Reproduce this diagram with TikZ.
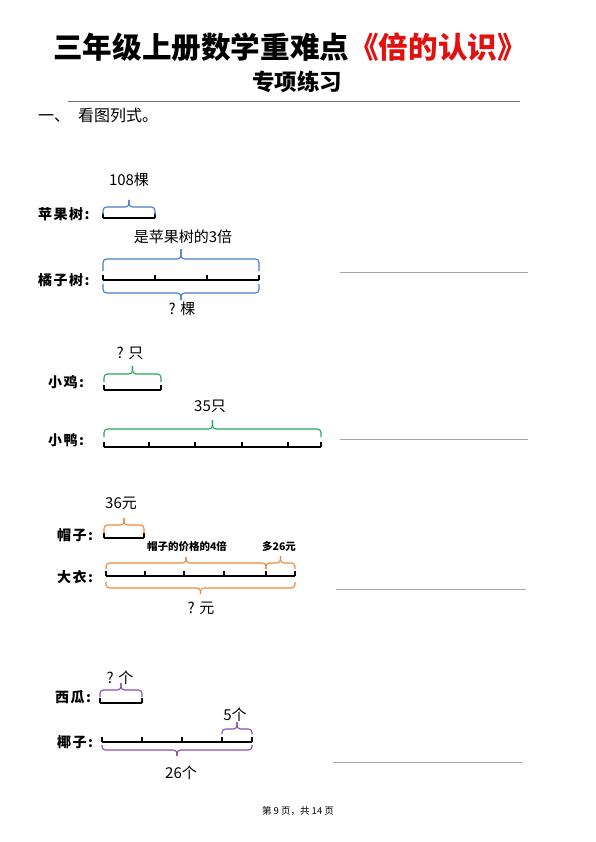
\documentclass[tikz,border=0pt]{standalone}
\usepackage{fontspec}
\setmainfont{Noto Sans CJK SC}
\definecolor{cblue}{HTML}{4A7BC8}
\definecolor{cgreen}{HTML}{22A85A}
\definecolor{corange}{HTML}{F0883A}
\definecolor{cpurple}{HTML}{8B4BB8}
\definecolor{cred}{HTML}{E31010}
\newcommand\mybrace[6]{%
 \draw[#1] (#2,#4) -- (#2,#5) -- ({(#2+#3)/2},#5) -- ({(#2+#3)/2},#6);
 \draw[#1] (#3,#4) -- (#3,#5) -- ({(#2+#3)/2},#5) -- ({(#2+#3)/2},#6);}
\newcommand\mytick[2]{\draw[barline] (#1,#2) -- (#1,#2-5);}
\tikzset{
 barline/.style={line width=1.2pt, black},
 brc/.style={line width=1.1pt, rounded corners=3.5pt, draw=#1},
 lbl/.style={inner sep=0pt, anchor=west, font=\fontsize{14}{14}\selectfont\bfseries},
 txt/.style={inner sep=0pt, font=\fontsize{15}{15}\selectfont},
 sml/.style={inner sep=0pt, font=\fontsize{10.5}{10.5}\selectfont\bfseries},
 ans/.style={line width=0.9pt, black!35},
}
\newcommand\lsp{\hspace{1.5pt}}
\begin{document}
\begin{tikzpicture}[x=1pt,y=-1pt]
\useasboundingbox[fill=white] (0,0) rectangle (596,842);
% title
\node[inner sep=0pt, font=\fontsize{29.6}{29.6}\selectfont\bfseries] (title) at (290,47) {三年级上册数学重难点\textcolor{cred}{《倍的认识》}};
\node[inner sep=0pt, font=\fontsize{22.5}{22.5}\selectfont\bfseries] (sub) at (297,82) {专项练习};
\draw[line width=0.8pt, black!55] (68,101) -- (520,101);
\node[inner sep=0pt, anchor=west, font=\fontsize{16}{16}\selectfont] (q1) at (38,115) {一、\hspace{8pt}看图列式。};
% ---- 1
\node[txt] (t108) at (129,180) {108棵};
\node[lbl] (lapple) at (38,214) {苹\lsp 果\lsp 树\lsp :};
\draw[barline] (103,218) -- (155,218);
\mytick{103}{218}\mytick{155}{218}
\mybrace{brc=cblue}{103}{155}{215}{207}{200}
\node[txt] (t3b) at (183,237) {是苹果树的3倍};
\node[lbl] (lorange) at (38,280) {橘\lsp 子\lsp 树\lsp :};
\draw[barline] (103,280) -- (259,280);
\mytick{103}{280}\mytick{155}{280}\mytick{207}{280}\mytick{259}{280}
\mybrace{brc=cblue}{103}{259}{271}{259}{249}
\mybrace{brc=cblue}{103}{259}{284}{293}{300}
\node[txt] (tqk) at (182,309) {? 棵};
\draw[ans] (340,272) -- (528,272);
% ---- 2
\node[txt] (tqz) at (130,353) {? 只};
\node[lbl] (lchick) at (48,382) {小\lsp 鸡\lsp :};
\draw[barline] (104,390) -- (161,390);
\mytick{104}{390}\mytick{161}{390}
\mybrace{brc=cgreen}{104}{161}{382}{374}{366}
\node[txt] (t35) at (210,406) {35只};
\node[lbl] (lduck) at (48,440) {小\lsp 鸭\lsp :};
\draw[barline] (104,447) -- (321,447);
\mytick{104}{447}\mytick{149}{447}\mytick{195}{447}\mytick{242}{447}\mytick{288}{447}\mytick{321}{447}
\mybrace{brc=cgreen}{104}{321}{437}{429}{420}
\draw[ans] (340,439) -- (528,439);
% ---- 3
\node[txt] (t36) at (121,503) {36元};
\node[lbl] (lhat) at (57,535) {帽\lsp 子\lsp :};
\draw[barline] (104,538) -- (144,538);
\mytick{104}{538}\mytick{144}{538}
\mybrace{brc=corange}{104}{144}{533}{525}{518}
\node[sml] (t4b) at (187,546) {帽子的价格的4倍};
\node[sml] (t26) at (279,546) {多26元};
\node[lbl] (lcoat) at (57,577) {大\lsp 衣\lsp :};
\draw[barline] (106,576) -- (295,576);
\mytick{106}{576}\mytick{145}{576}\mytick{184}{576}\mytick{224}{576}\mytick{266}{576}\mytick{295}{576}
\mybrace{brc=corange}{106}{266}{569}{563}{557}
\mybrace{brc=corange}{266}{295}{569}{563}{556}
\mybrace{brc=corange}{106}{295}{582}{588}{594}
\node[txt] (tqy) at (201,608) {? 元};
\draw[ans] (336,589) -- (526,589);
% ---- 4
\node[txt] (tqg) at (120,678) {? 个};
\node[lbl] (lmelon) at (55,697) {西\lsp 瓜\lsp :};
\draw[barline] (100,703) -- (142,703);
\mytick{100}{703}\mytick{142}{703}
\mybrace{brc=cpurple}{100}{142}{697}{690}{683}
\node[txt] (t5) at (235,715) {5个};
\node[lbl] (lcoco) at (57,742) {椰\lsp 子\lsp :};
\draw[barline] (102,742) -- (252,742);
\mytick{102}{742}\mytick{142}{742}\mytick{182}{742}\mytick{222}{742}\mytick{252}{742}
\mybrace{brc=cpurple}{222}{252}{734}{729}{722}
\mybrace{brc=cpurple}{102}{252}{745}{750}{756}
\node[txt] (t26g) at (181,773) {26个};
\draw[ans] (333,762) -- (522,762);
% footer
\node[inner sep=0pt, font=\fontsize{9.5}{9.5}\selectfont] (foot) at (298,811) {第 9 页，共 14 页};
\end{tikzpicture}
\end{document}
